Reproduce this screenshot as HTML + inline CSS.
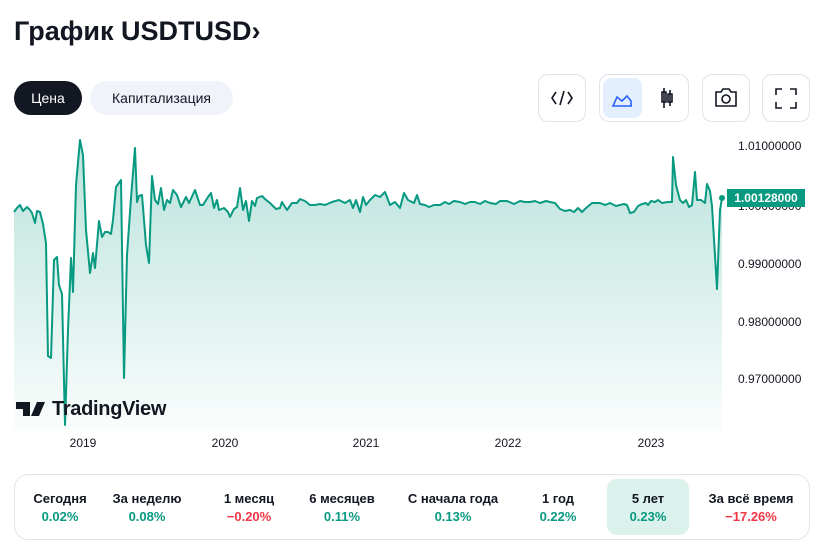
<!DOCTYPE html>
<html><head><meta charset="utf-8"><style>
*{margin:0;padding:0;box-sizing:border-box}
body{width:828px;height:546px;background:#fff;font-family:"Liberation Sans","DejaVu Sans",sans-serif;color:#131722;position:relative;overflow:hidden}
.abs{position:absolute}
h1{position:absolute;left:14px;top:16px;font-size:27px;font-weight:bold;letter-spacing:0;white-space:nowrap}
.pill{position:absolute;top:81px;height:34px;border-radius:17px;font-size:14px;line-height:34px;text-align:center}
.ib{position:absolute;top:74px;height:48px;border:1px solid #e0e3eb;border-radius:10px}
.lab{position:absolute;top:491px;font-size:13px;font-weight:bold;text-align:center;transform:translateX(-50%);white-space:nowrap}
.val{position:absolute;top:509px;font-size:13px;font-weight:bold;text-align:center;transform:translateX(-50%);color:#089981}
.red{color:#f23645}
.yl{position:absolute;left:738px;font-size:12px;color:#131722}
.xl{position:absolute;top:436px;font-size:12px;transform:translateX(-50%)}
</style></head><body>
<h1>График USDTUSD›</h1>
<div class="pill" style="left:14px;width:68px;background:#131722;color:#fff">Цена</div>
<div class="pill" style="left:90px;width:143px;background:#f0f3fa">Капитализация</div>
<div class="ib" style="left:538px;width:48px"></div>
<div class="ib" style="left:599px;width:90px"></div>
<div class="abs" style="left:603px;top:78px;width:39px;height:40px;background:#e3effd;border-radius:8px"></div>
<div class="ib" style="left:702px;width:48px"></div>
<div class="ib" style="left:762px;width:48px"></div>
<svg class="abs" style="left:0;top:0" width="828" height="130">
<g fill="none" stroke="#131722" stroke-width="1.6">
<path d="M556 92l-4 6 4 6M568 92l4 6-4 6M564 91l-4 14"/>
<path d="M664 88v20M662 92h4v10h-4zM670 90v16M668 94h4v8h-4z"/>
<path d="M716 92h5l2-3h6l2 3h5v14h-20z"/><circle cx="726" cy="99" r="4"/>
<path d="M776 95v-6h6M790 89h6v6M796 102v6h-6M782 108h-6v-6"/>
</g>
<path d="M613 106l4-9 5 4 5-5 4 5v5z M613 106h19" fill="none" stroke="#2962ff" stroke-width="1.6"/>
</svg>
<svg class="abs" style="left:0;top:0" width="828" height="440">
<defs><linearGradient id="g" x1="0" y1="0" x2="0" y2="1"><stop offset="0" stop-color="#089981" stop-opacity="0.28"/><stop offset="1" stop-color="#089981" stop-opacity="0.02"/></linearGradient></defs>
<path id="p" fill="url(#g)" stroke="none" d=""/>
<polyline id="l" fill="none" stroke="#089981" stroke-width="2" stroke-linejoin="round" points="14,212 17,208 20,205 23,211 27,207 30,210 32,213 35,223 37,211 40,212 43,224 46,243 48,356 51,358 54,260 57,257 59,285 62,294 65,425 68,330 71,258 73,292 76,185 80,140 83,155 86,230 90,273 93,253 95,268 99,221 102,237 105,232 108,232 111,234 113,220 116,187 121,180 124,378 127,255 131,198 135,148 137,202 139,196 142,195 146,245 149,263 152,176 155,200 158,204 161,188 164,210 167,200 170,203 173,190 177,195 181,207 186,197 189,203 195,190 200,205 203,205 208,197 211,193 214,208 217,200 219,210 224,208 228,212 230,217 234,209 237,207 240,188 243,210 246,201 249,221 252,201 255,206 257,198 262,196 265,199 270,203 276,209 280,208 282,202 287,210 292,203 297,203 300,199 305,201 310,205 315,205 320,204 325,205 332,202 339,200 345,203 350,200 353,208 356,200 360,212 363,197 366,205 370,200 375,195 380,197 385,192 390,205 395,202 400,208 404,193 408,200 414,203 417,195 420,204 425,205 429,207 434,205 440,205 445,202 449,204 454,201 460,202 465,204 470,202 475,202 480,204 485,201 490,203 496,204 500,201 507,201 514,204 520,201 525,202 530,202 535,201 540,203 546,201 550,202 555,203 560,209 565,211 570,210 574,212 578,208 582,212 586,208 592,203 600,203 605,205 610,203 616,206 620,205 624,204 627,205 630,213 634,212 638,206 642,204 646,203 648,205 651,201 655,202 658,200 662,203 668,202 672,202 673,157 676,185 680,200 683,203 686,200 689,207 692,205 695,172 697,200 701,200 705,203 707,184 710,191 712,206 717,289 720,210 722,198"/>
<circle cx="722" cy="198" r="3" fill="#089981"/>
<path d="M16 402h14v14h-7v-7h-7z M31 416l6-14h8l-6 14z" fill="#131722"/>
</svg>
<script>
var pts=document.getElementById('l').getAttribute('points').trim();
document.getElementById('p').setAttribute('d','M'+pts.replace(/ /g,' L')+' L722,430 L14,430 Z');
</script>
<div class="yl" style="top:139px">1.01000000</div>
<div class="yl" style="top:199px">1.00000000</div>
<div class="abs" style="left:727px;top:189px;width:78px;height:18px;background:#089981;color:#fff;font-size:12px;font-weight:bold;line-height:18px;text-align:center">1.00128000</div>
<div class="yl" style="top:257px">0.99000000</div>
<div class="yl" style="top:315px">0.98000000</div>
<div class="yl" style="top:372px">0.97000000</div>
<div class="abs" style="left:52px;top:398px;font-size:20px;font-weight:bold;letter-spacing:-0.3px">TradingView</div>
<div class="xl" style="left:83px">2019</div>
<div class="xl" style="left:225px">2020</div>
<div class="xl" style="left:366px">2021</div>
<div class="xl" style="left:508px">2022</div>
<div class="xl" style="left:651px">2023</div>
<div class="abs" style="left:14px;top:474px;width:796px;height:66px;border:1px solid #e0e3eb;border-radius:14px"></div>
<div class="abs" style="left:607px;top:479px;width:82px;height:56px;background:#daf1ec;border-radius:10px"></div>
<div class="lab" style="left:60px">Сегодня</div><div class="val" style="left:60px">0.02%</div>
<div class="lab" style="left:147px">За неделю</div><div class="val" style="left:147px">0.08%</div>
<div class="lab" style="left:249px">1 месяц</div><div class="val red" style="left:249px">−0.20%</div>
<div class="lab" style="left:342px">6 месяцев</div><div class="val" style="left:342px">0.11%</div>
<div class="lab" style="left:453px">С начала года</div><div class="val" style="left:453px">0.13%</div>
<div class="lab" style="left:558px">1 год</div><div class="val" style="left:558px">0.22%</div>
<div class="lab" style="left:648px">5 лет</div><div class="val" style="left:648px">0.23%</div>
<div class="lab" style="left:751px">За всё время</div><div class="val red" style="left:751px">−17.26%</div>
</body></html>
